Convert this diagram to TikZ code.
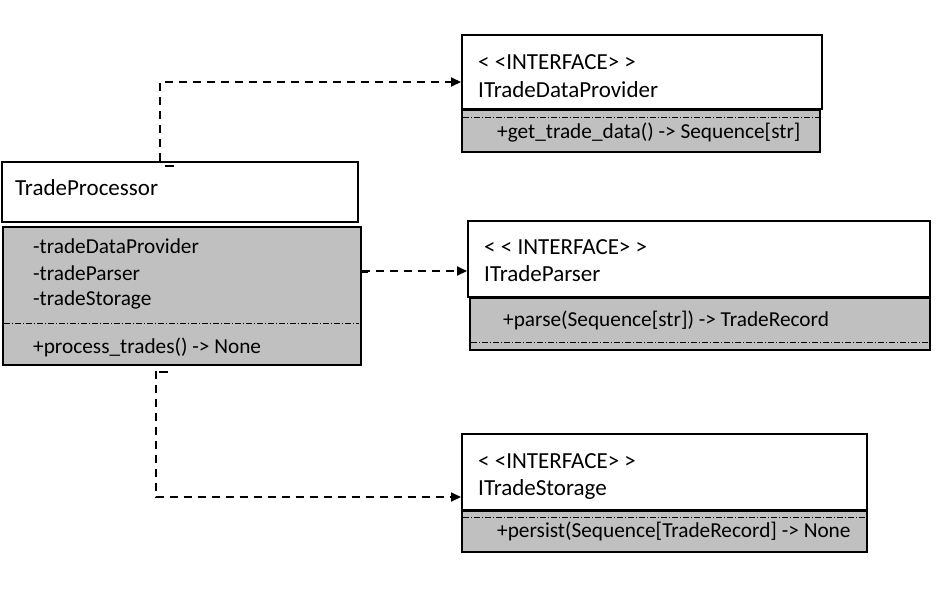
\documentclass[tikz,border=0pt]{standalone}
\usepackage{fontspec}
\setmainfont{Carlito}
\usetikzlibrary{arrows.meta}
\definecolor{boxgray}{HTML}{C0C0C0}
\tikzset{
  head/.style={draw=black, line width=2pt, fill=white, inner sep=0pt},
  body/.style={draw=black, line width=1.4pt, fill=boxgray, inner sep=0pt},
  txt/.style={anchor=west, inner sep=0pt, font=\fontsize{21.3}{24}\selectfont},
  ttl/.style={anchor=west, inner sep=0pt, font=\fontsize{23}{26}\selectfont},
  sep/.style={line width=0.6pt, dash pattern=on 6pt off 2pt on 1pt off 2pt},
  dep/.style={line width=2pt, dash pattern=on 8pt off 6pt, -{Triangle[length=10pt,width=9pt]}},
  tick/.style={line width=1.6pt}
}
\begin{document}
\begin{tikzpicture}[x=1pt,y=-1pt]
\useasboundingbox (0,0) rectangle (936,606);
% TradeProcessor
\node[head, minimum width=356pt, minimum height=60pt] (tpH) at (180,192) {};
\node[body, minimum width=358pt, minimum height=138pt] (tpB) at (182,296) {};
\node[ttl] (tpT) at (15,188) {TradeProcessor};
\node[txt] (tpA1) at (33,246) {-tradeDataProvider};
\node[txt] (tpA2) at (33,273) {-tradeParser};
\node[txt] (tpA3) at (33,300) {-tradeStorage};
\draw[sep] (4,323) -- (359,323);
\node[txt] (tpM1) at (33,347) {+process\_trades() -> None};
% ITradeDataProvider
\node[head, minimum width=360pt, minimum height=74pt] (dpH) at (642,72) {};
\node[body, minimum width=358pt, minimum height=42pt] (dpB) at (641,131) {};
\node[ttl] (dpS) at (478,62) {< <INTERFACE> >};
\node[ttl] (dpN) at (478,90) {ITradeDataProvider};
\draw[sep] (463,117) -- (819,117);
\node[txt] (dpM) at (497,133) {+get\_trade\_data() -> Sequence[str]};
% ITradeParser
\node[head, minimum width=462pt, minimum height=76pt] (paH) at (699,259) {};
\node[body, minimum width=460pt, minimum height=52pt] (paB) at (700,324) {};
\node[ttl] (paS) at (484,247) {< < INTERFACE> >};
\node[ttl] (paN) at (484,274) {ITradeParser};
\node[txt] (paM) at (503,320) {+parse(Sequence[str]) -> TradeRecord};
\draw[sep] (471,342) -- (929,342);
% ITradeStorage
\node[head, minimum width=405pt, minimum height=76pt] (stH) at (664.5,472) {};
\node[body, minimum width=405pt, minimum height=41pt] (stB) at (664.5,531.5) {};
\node[ttl] (stS) at (478,461) {< <INTERFACE> >};
\node[ttl] (stN) at (478,489) {ITradeStorage};
\draw[sep] (463,517) -- (866,517);
\node[txt] (stM) at (497,531) {+persist(Sequence[TradeRecord] -> None};
% connectors
\draw[dep] ([xshift=159pt]tpH.north west) |- ([yshift=-10pt]dpH.west);
\draw[dep] ([yshift=25pt]tpB.east) -- ([yshift=25pt]tpB.east -| paH.west);
\draw[dep] ([xshift=-26pt,yshift=-5pt]tpB.south) |- ([yshift=-25pt]stH.west);
% small stubs
\draw[tick] (165,166) -- (174,166);
\draw[tick] (361,272) -- (368,272);
\draw[tick] (159,372) -- (168,372);
\end{tikzpicture}
\end{document}
